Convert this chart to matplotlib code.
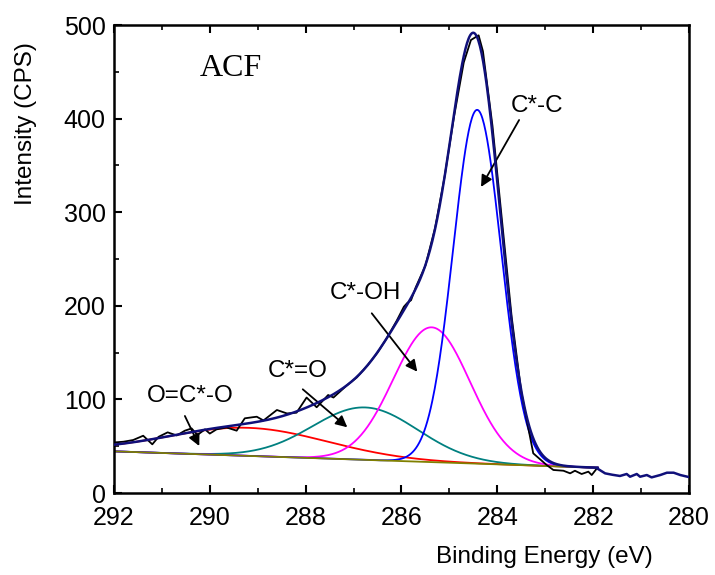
import numpy as np
import matplotlib
matplotlib.use("Agg")
import matplotlib.pyplot as plt

# raw C1s spectrum (eV, CPS)
raw_x = [292.0, 291.8, 291.6, 291.39, 291.2, 291.07, 290.88, 290.69, 290.52, 290.38,
         290.26, 290.1, 290.0, 289.86, 289.65, 289.44, 289.27, 289.1, 289.02, 288.88,
         288.6, 288.39, 288.19, 287.98, 287.77, 287.53, 287.42, 287.14, 286.93, 286.7,
         286.5, 286.3, 286.1, 285.95, 285.88, 285.8, 285.7, 285.5, 285.3, 285.1,
         284.9, 284.7, 284.55, 284.39, 284.3, 284.1, 283.9, 283.7, 283.5, 283.25,
         282.97, 282.83, 282.62, 282.48, 282.38, 282.24, 282.1, 282.03, 281.92]
raw_y = [54, 54.8, 56.6, 61.2, 52, 60, 64.8, 61.5, 66.6, 69,
         62, 68, 63.5, 68, 70, 66.6, 79.8, 81, 81.5, 77.5,
         88.7, 85, 85.8, 102, 91.6, 104.7, 102, 115, 123.6, 137,
         150, 166, 184, 199, 203, 206, 220, 243, 283, 338,
         403, 460, 484, 489, 472, 392, 290, 188, 108, 42.4,
         29.9, 24.6, 23.8, 21, 23.8, 20.3, 22.8, 19.2, 26.4]

# low-energy tail past the fit range
tail_x = [281.92, 281.75, 281.6, 281.44, 281.3, 281.23, 281.09, 281.02, 280.88, 280.78,
          280.6, 280.46, 280.32, 280.18, 280.04, 280.0]
tail_y = [26.4, 21, 19.5, 18.2, 20.3, 17.4, 20.3, 17.4, 19.2, 16.7,
          19.2, 21.7, 21.7, 19.2, 17.4, 17]

# linear background end points
bg_x = [292.0, 281.9]
bg_y = [44.5, 27.0]

# fitted peaks: name, centre (eV), height above background, sigma (eV), colour
peak_names = ["O=C*-O", "C*=O", "C*-OH", "C*-C"]
peak_centres = [289.2, 286.76, 285.37, 284.42]
peak_heights = [30, 56, 144, 378]
peak_sigmas = [1.65, 1.1, 0.8, 0.5]
peak_colors = ["#ff0000", "#008080", "#ff00ff", "#0000ff"]

# label text position, arrow tail, arrow head (data coords)
label_xy = [(290.41, 103.6), (288.17, 130.3), (286.76, 213.7), (283.18, 413.5)]
arrow_tail = [(290.52, 82.3), (288.06, 110.8), (286.62, 192.0), (283.545, 398.5)]
arrow_head = [(290.22, 50.2), (287.13, 70.2), (285.67, 129.6), (284.34, 327.0)]

plt.rcParams["font.family"] = ["Liberation Sans", "DejaVu Sans"]

fig = plt.figure(figsize=(7.15, 5.75), dpi=100)
ax = fig.add_axes([0.1594, 0.1426, 0.8042, 0.8139])

x = np.linspace(bg_x[0], bg_x[1], 600)
bg = np.interp(x, bg_x[::-1], bg_y[::-1])

ax.plot(raw_x, raw_y, color="black", lw=1.3, zorder=3)

env = bg.copy()
for c, h, s, col in zip(peak_centres, peak_heights, peak_sigmas, peak_colors):
    comp = h * np.exp(-(x - c) ** 2 / (2 * s ** 2))
    env += comp
    ax.plot(x, bg + comp, color=col, lw=1.3, zorder=2)
ax.plot(bg_x, bg_y, color="#808000", lw=1.3, zorder=2)

ax.plot(np.append(x, tail_x), np.append(env, tail_y), color="#10107a", lw=1.8, zorder=4)

for name, lxy, t, hd in zip(peak_names, label_xy, arrow_tail, arrow_head):
    ax.text(lxy[0], lxy[1], name, fontsize=17.5, ha="center", va="center")
    ax.annotate("", xy=hd, xytext=t,
                arrowprops=dict(arrowstyle="-|>", color="black", lw=1.3,
                                mutation_scale=17, shrinkA=0, shrinkB=0))

ax.text(289.56, 454, "ACF", fontsize=23, ha="center", va="center",
        family="Liberation Serif")

ax.set_xlim(292, 280)
ax.set_ylim(0, 500)
ax.set_xticks([292, 290, 288, 286, 284, 282, 280])
ax.set_xticks(np.arange(280, 293, 1), minor=True)
ax.set_yticks([0, 100, 200, 300, 400, 500])
ax.set_yticks(np.arange(0, 501, 50), minor=True)
ax.tick_params(axis="x", which="major", pad=9)
ax.tick_params(axis="y", which="major", pad=6)
ax.tick_params(axis="both", which="major", direction="in", length=6, width=1.5,
               labelsize=18, top=True)
ax.tick_params(axis="both", which="minor", direction="in", length=3.5, width=1.2,
               top=True)
for sp in ax.spines.values():
    sp.set_linewidth(1.8)

ax.set_xlabel("Binding Energy (eV)", fontsize=17.5)
ax.xaxis.set_label_coords(0.748, -0.113)
ax.set_ylabel("Intensity (CPS)", fontsize=17.5)
ax.yaxis.set_label_coords(-0.134, 0.79)

fig.savefig("out.png", dpi=100)
